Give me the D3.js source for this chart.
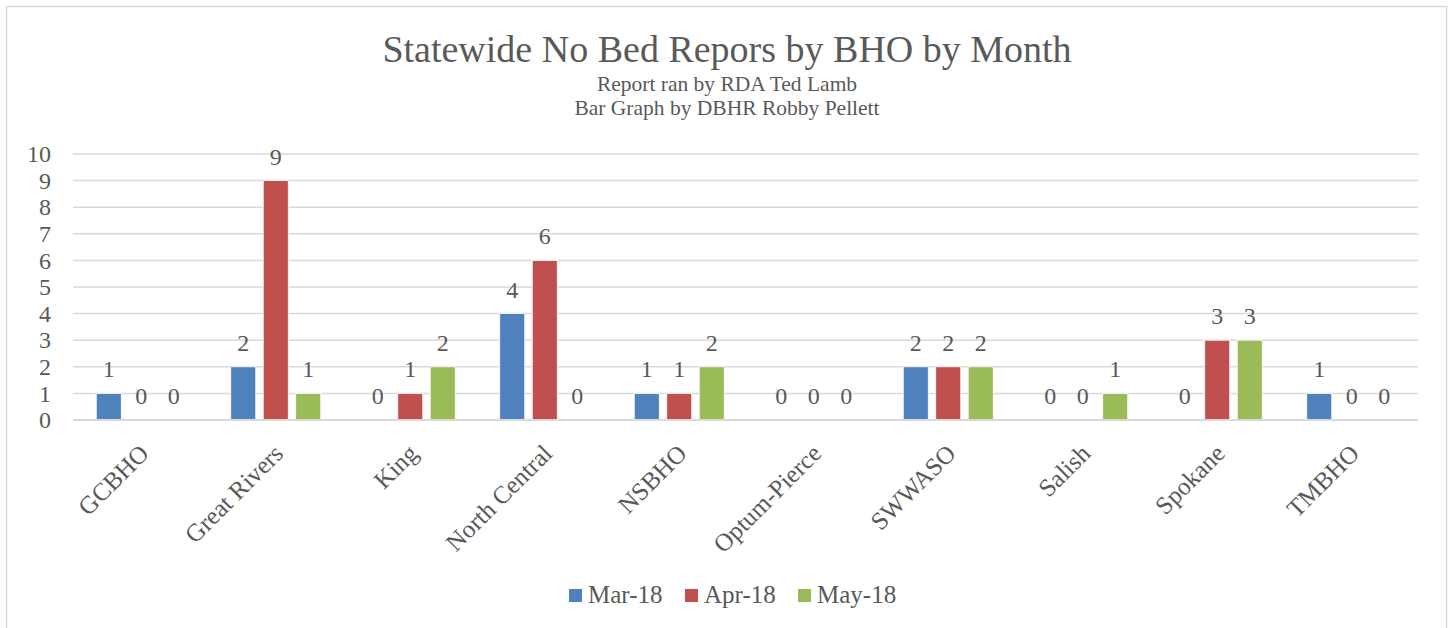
<!DOCTYPE html>
<html>
<style>
    body { margin: 0; background: #fff; }
    svg text { font-family: "Liberation Serif", "DejaVu Serif", serif; fill: #595959; }
    .grid line { stroke: #d9d9d9; stroke-width: 1.5px; }
</style>
<script src="https://d3js.org/d3.v7.min.js"></script>
<body>
<svg width="1450" height="628"></svg>
<script>
    const categories = ["GCBHO", "Great Rivers", "King", "North Central", "NSBHO", "Optum-Pierce", "SWWASO", "Salish", "Spokane", "TMBHO"];
    const seriesNames = ["Mar-18", "Apr-18", "May-18"];
    const mar18 = [1, 2, 0, 4, 1, 0, 2, 0, 0, 1];
    const apr18 = [0, 9, 1, 6, 1, 0, 2, 0, 3, 0];
    const may18 = [0, 1, 2, 0, 2, 0, 2, 1, 3, 0];
    const yTicks = [0, 1, 2, 3, 4, 5, 6, 7, 8, 9, 10];
    const colors = ["#4f81bd", "#c0504d", "#9bbb59"];

    const svg = d3.select("svg");
    const margin = {left: 73, right: 32, top: 154, bottom: 208};
    const width = 1450, height = 628;

    // outer chart border
    svg.append("rect")
        .attr("x", 6.5).attr("y", 6.5)
        .attr("width", 1440).attr("height", 640)
        .attr("fill", "none").attr("stroke", "#d9d9d9").attr("stroke-width", 1.5);

    const x = d3.scaleBand()
        .domain(categories)
        .range([margin.left, width - margin.right]);
    const sub = d3.scaleBand()
        .domain(seriesNames)
        .range([x.bandwidth() / 2 - 44, x.bandwidth() / 2 + 46])
        .paddingInner(0.23);
    const y = d3.scaleLinear()
        .domain([0, 10])
        .range([height - margin.bottom, margin.top]);

    // gridlines
    svg.append("g").attr("class", "grid")
        .selectAll("line")
        .data(yTicks)
        .join("line")
        .attr("x1", margin.left).attr("x2", width - margin.right)
        .attr("y1", d => y(d)).attr("y2", d => y(d));

    // y axis labels
    const yAxis = svg.append("g")
        .attr("transform", `translate(${margin.left - 22},0)`)
        .call(d3.axisLeft(y).tickValues(yTicks).tickSize(0).tickPadding(0));
    yAxis.select(".domain").remove();
    yAxis.selectAll("text")
        .style("font-size", "24px")
        .attr("fill", "#595959")
        .style("font-family", "'Liberation Serif', serif");

    const rows = categories.map((c, i) => ({cat: c, values: [mar18[i], apr18[i], may18[i]]}));

    const groups = svg.append("g").selectAll("g")
        .data(rows)
        .join("g")
        .attr("transform", d => `translate(${x(d.cat)},0)`);

    groups.selectAll("rect")
        .data(d => d.values.map((v, k) => ({v, k})))
        .join("rect")
        .attr("x", d => sub(seriesNames[d.k]))
        .attr("width", sub.bandwidth())
        .attr("y", d => y(d.v))
        .attr("height", d => y(0) - y(d.v))
        .attr("fill", d => colors[d.k])
        .attr("stroke", "#fff").attr("stroke-width", 0.8);

    groups.selectAll("text")
        .data(d => d.values.map((v, k) => ({v, k})))
        .join("text")
        .attr("x", d => sub(seriesNames[d.k]) + sub.bandwidth() / 2)
        .attr("y", d => y(d.v) - 16)
        .attr("text-anchor", "middle")
        .style("font-size", "24px")
        .text(d => d.v);

    // baseline
    svg.append("line")
        .attr("x1", margin.left).attr("x2", width - margin.right)
        .attr("y1", y(0)).attr("y2", y(0))
        .attr("stroke", "#d9d9d9").attr("stroke-width", 2);

    // category labels
    svg.append("g").selectAll("text")
        .data(categories)
        .join("text")
        .attr("transform", d => `translate(${x(d) + x.bandwidth() / 2 + 10},${y(0) + 35}) rotate(-45)`)
        .attr("text-anchor", "end")
        .style("font-size", "25px")
        .text(d => d);

    // titles
    svg.append("text")
        .attr("x", 727).attr("y", 62)
        .attr("text-anchor", "middle")
        .style("font-size", "38px")
        .text("Statewide No Bed Repors by BHO by Month");
    svg.append("text")
        .attr("x", 727).attr("y", 91)
        .attr("text-anchor", "middle")
        .style("font-size", "21.5px")
        .text("Report ran by RDA Ted Lamb");
    svg.append("text")
        .attr("x", 727).attr("y", 115)
        .attr("text-anchor", "middle")
        .style("font-size", "21.5px")
        .text("Bar Graph by DBHR Robby Pellett");

    // legend
    const legendX = [569, 685, 798];
    const legend = svg.append("g").selectAll("g")
        .data(seriesNames)
        .join("g")
        .attr("transform", (d, i) => `translate(${legendX[i]},589)`);
    legend.append("rect")
        .attr("width", 13).attr("height", 13)
        .attr("fill", (d, i) => colors[i]);
    legend.append("text")
        .attr("x", 19).attr("y", 14)
        .style("font-size", "25px")
        .text(d => d);
</script>
</body>
</html>
